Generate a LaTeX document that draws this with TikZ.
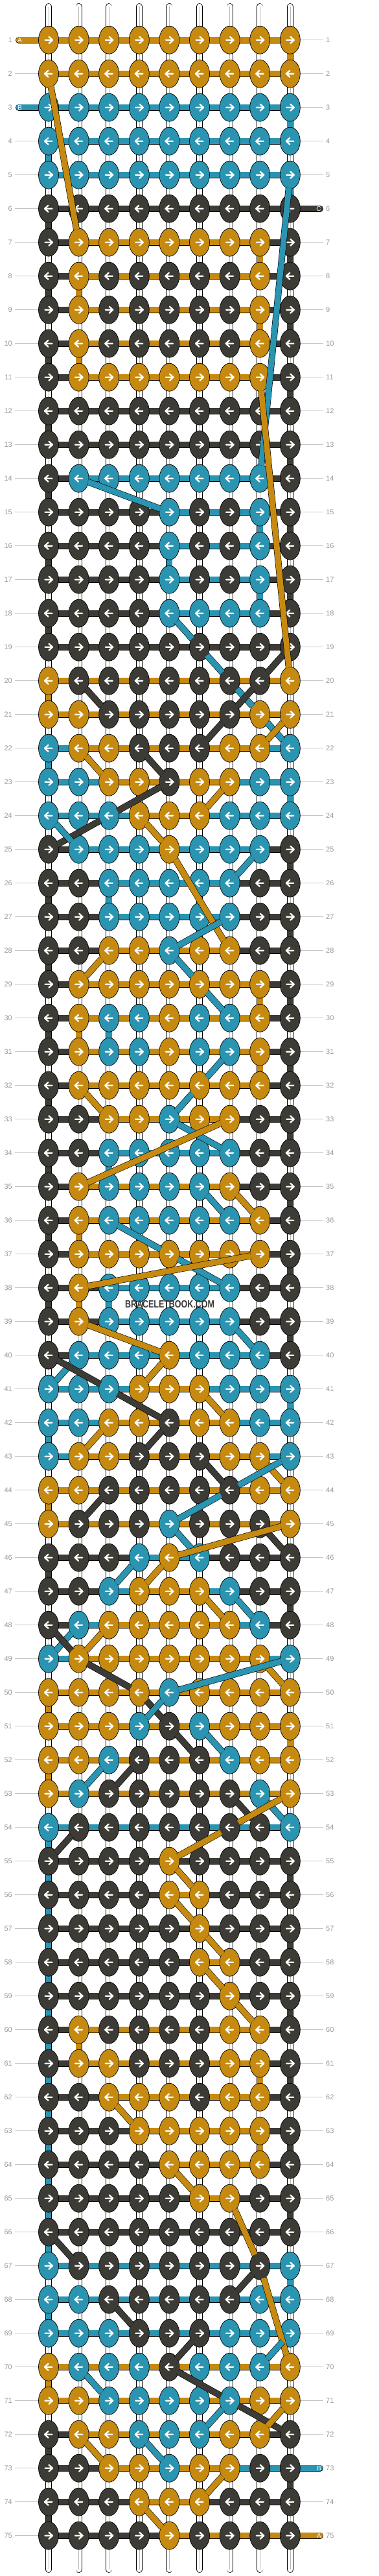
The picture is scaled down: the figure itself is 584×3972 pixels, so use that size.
\documentclass[tikz,border=0pt]{standalone}
\usepackage{fontspec}
\newfontfamily\labfont{Liberation Sans}
\usetikzlibrary{shapes.geometric}
\definecolor{G}{HTML}{C68A10}
\definecolor{B}{HTML}{2A94B1}
\definecolor{K}{HTML}{3D3B36}
\definecolor{rulegray}{HTML}{C4C4C4}
\definecolor{numgray}{HTML}{9A9A9A}

\tikzset{
  knot/.style={ellipse, draw=black, line width=0.7pt, fill=#1, minimum width=31pt, minimum height=43pt, inner sep=0pt},
  bar/.style={draw=black, line width=0.6pt, double=#1, double distance=8.8pt},
  vseg/.style={draw=black, line width=0.6pt, double=#1, double distance=8.8pt},
  thread/.style={draw=black, line width=0.6pt, double=#1, double distance=8.8pt, shorten <=-1.5pt, shorten >=-1.5pt},
  tailbar/.style={draw=black, line width=0.6pt, double=#1, double distance=8.8pt, line cap=round},
  whitestring/.style={draw=black, line width=0.7pt, double=white, double distance=8.6pt, line cap=round},
  rowlab/.style={font=\labfont\fontsize{11}{11}\selectfont, text=numgray, inner sep=4pt},
  ruleline/.style={draw=rulegray, line width=0.8pt},
  taillab/.style={font=\labfont\fontsize{10}{10}\selectfont, text=white, inner sep=0pt},
  pics/knotarrow/.style={code={\draw[white, line width=2.3pt, line cap=round, line join=round] (-5.5,0) -- (6,0) (0.5,-5) -- (6,0) -- (0.5,5);}}
}

% one row: knot colours (9) and bar colours (8)
\newcommand\krow[3]{\def\krnum{#1}%
  \ifodd#1\relax\def\kdir{1}\else\def\kdir{-1}\fi
  \barsx#3\knotsx#2}
\newcommand\barsx[8]{\foreach \kc [count=\ki] in {#1,#2,#3,#4,#5,#6,#7,#8}{%
    \pgfmathtruncatemacro\kn{\ki+1}%
    \draw[bar=\kc] (p-\krnum-\ki) -- (p-\krnum-\kn);}}
\newcommand\knotsx[9]{\foreach \kc [count=\ki] in {#1,#2,#3,#4,#5,#6,#7,#8,#9}{%
    \node[knot=\kc] (k-\krnum-\ki) at (p-\krnum-\ki) {};
    \pic[xscale=\kdir] at (p-\krnum-\ki) {knotarrow};}}

\begin{document}
\begin{tikzpicture}[x=1pt, y=-1pt]
\useasboundingbox (0,0) rectangle (584,3972);

\foreach \r in {1,...,75}
  \foreach \c in {1,...,9}
    \coordinate (p-\r-\c) at ({75+46.6*(\c-1)}, {61.7+52*(\r-1)});

% base strings
\foreach \c in {1,...,9}{
  \coordinate (top-\c) at ({75+46.6*(\c-1)}, 10);
  \coordinate (bot-\c) at ({75+46.6*(\c-1)}, 3962);
  \draw[whitestring] (top-\c) -- (bot-\c);
  \draw[gray!55, line width=0.6pt] (top-\c) -- (bot-\c);
}

% row numbers
\foreach \r in {1,...,75}{
  \node[rowlab, anchor=east] (nl-\r) at (23, {61.7+52*(\r-1)}) {\r};
  \node[rowlab, anchor=west] (nr-\r) at (499, {61.7+52*(\r-1)}) {\r};
  \draw[ruleline] (nl-\r) -- (p-\r-1);
  \draw[ruleline] (p-\r-9) -- (nr-\r);
}

% turns at the ends of the rows
\foreach \r/\c/\cl in {1/9/G, 3/9/B, 4/1/B, 5/9/B, 6/1/K, 7/8/G, 7/9/K, 8/1/K, 8/2/G,
  9/8/G, 9/9/K, 10/1/K, 10/2/G, 11/9/K, 12/1/K, 13/9/K, 14/1/K, 15/8/B, 15/9/K,
  16/1/K, 16/5/B, 17/8/B, 17/9/K, 18/1/K, 20/1/G, 22/1/B, 23/9/B, 25/9/K, 26/1/K,
  26/3/B, 27/9/K, 28/1/K, 29/8/G, 29/9/K, 30/1/K, 30/2/G, 30/3/B, 31/8/G, 31/9/K,
  32/1/K, 33/9/K, 34/1/K, 34/3/B, 35/9/K, 36/1/K, 36/2/G, 37/9/K, 38/1/K, 38/2/G,
  38/3/B, 39/9/K, 41/9/B, 42/1/B, 44/1/G, 46/1/K, 47/9/K, 50/1/G, 51/9/G, 52/1/G,
  54/1/B, 55/1/B, 55/9/K, 56/1/B, 57/1/B, 57/9/K, 58/1/B, 59/1/B, 59/9/K, 60/1/B,
  60/2/G, 61/1/B, 61/8/G, 61/9/K, 62/1/B, 63/1/B, 63/8/G, 63/9/K, 64/1/B, 65/1/B,
  65/9/K, 66/1/B, 67/9/B, 68/1/B, 70/1/G, 72/1/K, 73/9/K, 74/1/K}{
  \pgfmathtruncatemacro\n{\r+1}
  \draw[vseg=\cl] (p-\r-\c) -- (p-\n-\c);
}

% loose ends
\foreach \r/\xe/\c/\cl/\tl/\dx in {1/29/1/G/A/1.5, 3/29/1/B/B/1.5, 6/494/9/K/C/-2,
  73/494/9/B/B/-1.5, 75/494/9/G/A/-1.5}{
  \coordinate (tail-\r) at (\xe, {61.7+52*(\r-1)});
  \draw[tailbar=\cl] (tail-\r) -- (p-\r-\c);
  \node[taillab] (tl-\r) at ([xshift=\dx pt]tail-\r) {\tl};
}

\krow{1}{GGGGGGGGG}{GGGGGGGG}
\krow{2}{GGGGGGGGG}{GGGGGGGG}
\krow{3}{BBBBBBBBB}{BBBBBBBB}
\krow{4}{BBBBBBBBB}{BBBBBBBB}
\krow{5}{BBBBBBBBB}{BBBBBBBB}
\krow{6}{KKKKKKKKK}{KKKKKKKK}
\krow{7}{KGGGGGGGK}{KGGGGGGK}
\krow{8}{KGKKKKKGK}{KGGGGGGK}
\krow{9}{KGKKKKKGK}{KGGGGGGK}
\krow{10}{KGKKKKKGK}{KGGGGGGK}
\krow{11}{KGGGGGGGK}{KGGGGGGK}
\krow{12}{KKKKKKKKK}{KKKKKKKK}
\krow{13}{KKKKKKKKK}{KKKKKKKK}
\krow{14}{KBBBBBBBK}{KBBBBBBK}
\krow{15}{KKKKBKKBK}{KKKKBBBK}
\krow{16}{KKKKBKKBK}{KKKKBBBK}
\krow{17}{KKKKBKKBK}{KKKKBBBK}
\krow{18}{KKKKBBBBK}{KKKKBBBK}
\krow{19}{KKKKKKKKK}{KKKKKKKK}
\krow{20}{GKKKKKKKG}{GGGGGGGG}
\krow{21}{GGKKKKKGG}{GGGGGGGG}
\krow{22}{BGGKKKGGB}{BGGGGGGB}
\krow{23}{BBGGKGGBB}{BBGGGGBB}
\krow{24}{BBBGGGBBB}{BBBGGBBB}
\krow{25}{KBBBGBBBK}{KBBBBBBK}
\krow{26}{KKBBBBBKK}{KKBBBBKK}
\krow{27}{KKBBBBBKK}{KKBBBBKK}
\krow{28}{KKGGBGGKK}{KKGGGGKK}
\krow{29}{KGGGGGGGK}{KGGGGGGK}
\krow{30}{KGBBGBBGK}{KGGGGGGK}
\krow{31}{KGBBGBBGK}{KGGGGGGK}
\krow{32}{KGGGGGGGK}{KGGGGGGK}
\krow{33}{KKGGBGGKK}{KKGGGGKK}
\krow{34}{KKBBBBBKK}{KKBBBBKK}
\krow{35}{KGBBBBGKK}{KGGGGGKK}
\krow{36}{KGBBBBBGK}{KGGGGGGK}
\krow{37}{KGGGGGGGK}{KGGGGGGK}
\krow{38}{KGBBBBBKK}{KKBBBBKK}
\krow{39}{KGBBBBBKK}{KKBBBBKK}
\krow{40}{KBBBGBBBK}{KBBBBBBK}
\krow{41}{BBBGGGBBB}{BBBGGBBB}
\krow{42}{BBGGKGGBB}{BBGGGGBB}
\krow{43}{BGGKKKGGB}{BGGGGGGB}
\krow{44}{GGKKKKKGG}{GGGGGGGG}
\krow{45}{GKKKBKKKG}{GGGGGGGG}
\krow{46}{KKKBGBKKK}{KKKBBKKK}
\krow{47}{KKBGGGBKK}{KKBGGBKK}
\krow{48}{KBGGGGGBK}{KBGGGGBK}
\krow{49}{BGGGGGGGB}{BGGGGGGB}
\krow{50}{GGGGBGGGG}{GGGGGGGG}
\krow{51}{GGGBKBGGG}{GGGGGGGG}
\krow{52}{GGBKKKBGG}{GGGGGGGG}
\krow{53}{GBKKKKKBG}{GGGGGGGG}
\krow{54}{BKKKKKKKB}{BBBBBBBB}
\krow{55}{KKKKGKKKK}{KKKKKKKK}
\krow{56}{KKKKGGKKK}{KKKKGKKK}
\krow{57}{KKKKKGKKK}{KKKKKKKK}
\krow{58}{KKKKKGGKK}{KKKKKGKK}
\krow{59}{KKKKKKGKK}{KKKKKKKK}
\krow{60}{KGKKKKGGK}{KGGGGGGK}
\krow{61}{KGGKKKGGK}{KGGGGGGK}
\krow{62}{KKGGGKGGK}{KKGGGGGK}
\krow{63}{KKKGGGGGK}{KKKGGGGK}
\krow{64}{KKKKGGGGK}{KKKKGGGK}
\krow{65}{KKKKKGGKK}{KKKKKGKK}
\krow{66}{KKKKKKKKK}{KKKKKKKK}
\krow{67}{BKKKKKKKB}{BBBBBBBB}
\krow{68}{BBKKKKKBB}{BBBBBBBB}
\krow{69}{BBBKKKBBB}{BBBBBBBB}
\krow{70}{GBBBKBBBG}{GGGGGGGG}
\krow{71}{GGBBBBBGG}{GGGGGGGG}
\krow{72}{KGGBBBGGK}{KGGGGGGK}
\krow{73}{KKGGBGGKK}{KKGGGGBB}
\krow{74}{KKKGGGKKK}{KKKGGKKK}
\krow{75}{KKKKGKKKK}{KKKKGGGG}

% threads moving between rows
\foreach \cl/\ca/\ra/\cb/\rb in {G/1/2/2/7, B/9/5/8/14, G/8/11/9/20, B/2/14/5/15,
  B/5/18/6/19, B/6/19/7/20, B/7/20/8/21, B/8/21/9/22, K/9/19/8/20, K/8/20/7/21,
  K/7/21/6/22, K/2/20/3/21, G/9/21/8/22, G/2/22/3/23, K/4/22/5/23, K/5/23/3/24,
  K/3/24/1/25, G/7/23/6/24, B/1/24/2/25, G/4/24/5/25, B/8/25/7/26, G/5/25/7/28,
  B/7/27/5/28, B/5/28/6/29, B/6/29/7/30, G/3/28/2/29, B/7/31/6/32, B/6/32/5/33,
  G/2/32/3/33, B/5/33/7/34, G/7/33/2/35, B/6/35/7/36, G/7/35/8/36, B/3/36/5/37,
  B/5/37/7/38, G/8/37/2/38, G/2/39/5/40, B/7/39/8/40, B/2/40/1/41, K/1/40/3/41,
  K/3/41/5/42, G/5/40/4/41, G/6/41/7/42, G/3/42/2/43, K/5/42/4/43, G/8/43/9/44,
  K/6/43/7/44, B/9/43/7/44, B/7/44/5/45, K/3/44/2/45, B/5/45/6/46, K/8/45/9/46,
  G/9/45/5/46, B/4/46/3/47, G/5/46/4/47, G/6/47/7/48, B/7/47/8/48, B/2/48/1/49,
  G/3/48/2/49, K/1/48/2/49, K/2/49/4/50, K/4/50/5/51, K/5/51/6/52, G/8/49/9/50,
  B/9/49/5/50, B/5/50/4/51, B/6/51/7/52, B/3/52/2/53, K/4/52/3/53, K/7/53/8/54,
  B/8/53/9/54, G/9/53/7/54, G/7/54/5/55, K/2/54/1/55, G/5/55/6/56, G/5/56/6/57,
  G/6/57/7/58, G/6/58/7/59, G/7/59/8/60, G/3/62/4/63, G/5/64/6/65, G/7/65/8/67,
  G/8/67/9/70, K/1/66/2/67, K/8/67/7/68, K/3/68/4/69, K/6/69/5/70, B/9/69/8/70,
  B/2/70/3/71, K/5/70/7/71, K/7/71/9/72, B/7/71/6/72, G/9/71/8/72, G/2/72/3/73,
  B/4/72/5/73, G/7/73/6/74, G/4/74/5/75}
  \draw[thread=\cl] (k-\ra-\ca) -- (k-\rb-\cb);

\node[font=\labfont\bfseries\fontsize{16}{16}\selectfont, text=black!78] (mark) at (262,2011) {\scalebox{0.78}[1]{BRACELETBOOK.COM}};
\end{tikzpicture}
\end{document}
